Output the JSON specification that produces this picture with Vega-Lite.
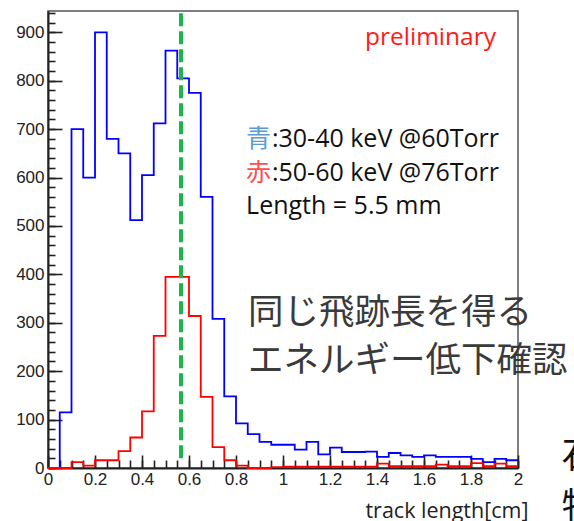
{
  "$schema": "https://vega.github.io/schema/vega-lite/v6.json",
  "width": 470,
  "height": 457,
  "autosize": {"type": "none"},
  "padding": {"left": 48, "top": 11, "right": 56, "bottom": 53},
  "background": "white",
  "config": {
    "view": {"stroke": "#555555", "strokeWidth": 1.5},
    "axis": {"grid": false}
  },
  "datasets": {
    "hist": [
      {"s": "blue", "x": 0, "v": 0}, {"s": "blue", "x": 0.05, "v": 115}, {"s": "blue", "x": 0.1, "v": 700}, {"s": "blue", "x": 0.15, "v": 600},
      {"s": "blue", "x": 0.2, "v": 900}, {"s": "blue", "x": 0.25, "v": 680}, {"s": "blue", "x": 0.3, "v": 650}, {"s": "blue", "x": 0.35, "v": 512},
      {"s": "blue", "x": 0.4, "v": 605}, {"s": "blue", "x": 0.45, "v": 712}, {"s": "blue", "x": 0.5, "v": 862}, {"s": "blue", "x": 0.55, "v": 805},
      {"s": "blue", "x": 0.6, "v": 775}, {"s": "blue", "x": 0.65, "v": 560}, {"s": "blue", "x": 0.7, "v": 308}, {"s": "blue", "x": 0.75, "v": 148},
      {"s": "blue", "x": 0.8, "v": 92}, {"s": "blue", "x": 0.85, "v": 70}, {"s": "blue", "x": 0.9, "v": 54}, {"s": "blue", "x": 0.95, "v": 48},
      {"s": "blue", "x": 1.0, "v": 48}, {"s": "blue", "x": 1.05, "v": 38}, {"s": "blue", "x": 1.1, "v": 54}, {"s": "blue", "x": 1.15, "v": 28},
      {"s": "blue", "x": 1.2, "v": 42}, {"s": "blue", "x": 1.25, "v": 33}, {"s": "blue", "x": 1.3, "v": 33}, {"s": "blue", "x": 1.35, "v": 34},
      {"s": "blue", "x": 1.4, "v": 23}, {"s": "blue", "x": 1.45, "v": 31}, {"s": "blue", "x": 1.5, "v": 26}, {"s": "blue", "x": 1.55, "v": 23},
      {"s": "blue", "x": 1.6, "v": 26}, {"s": "blue", "x": 1.65, "v": 23}, {"s": "blue", "x": 1.7, "v": 23}, {"s": "blue", "x": 1.75, "v": 23},
      {"s": "blue", "x": 1.8, "v": 19}, {"s": "blue", "x": 1.85, "v": 12}, {"s": "blue", "x": 1.9, "v": 19}, {"s": "blue", "x": 1.95, "v": 16},
      {"s": "blue", "x": 2.0, "v": 16},
      {"s": "red", "x": 0, "v": 0}, {"s": "red", "x": 0.05, "v": 0}, {"s": "red", "x": 0.1, "v": 12}, {"s": "red", "x": 0.15, "v": 5},
      {"s": "red", "x": 0.2, "v": 16}, {"s": "red", "x": 0.25, "v": 16}, {"s": "red", "x": 0.3, "v": 35}, {"s": "red", "x": 0.35, "v": 63},
      {"s": "red", "x": 0.4, "v": 117}, {"s": "red", "x": 0.45, "v": 273}, {"s": "red", "x": 0.5, "v": 395}, {"s": "red", "x": 0.55, "v": 395},
      {"s": "red", "x": 0.6, "v": 314}, {"s": "red", "x": 0.65, "v": 147}, {"s": "red", "x": 0.7, "v": 43}, {"s": "red", "x": 0.75, "v": 16},
      {"s": "red", "x": 0.8, "v": 5}, {"s": "red", "x": 0.85, "v": 0}, {"s": "red", "x": 0.9, "v": 0}, {"s": "red", "x": 0.95, "v": 2},
      {"s": "red", "x": 1.0, "v": 3}, {"s": "red", "x": 1.05, "v": 3}, {"s": "red", "x": 1.1, "v": 3}, {"s": "red", "x": 1.15, "v": 3},
      {"s": "red", "x": 1.2, "v": 3}, {"s": "red", "x": 1.25, "v": 3}, {"s": "red", "x": 1.3, "v": 3}, {"s": "red", "x": 1.35, "v": 3},
      {"s": "red", "x": 1.4, "v": 9}, {"s": "red", "x": 1.45, "v": 4}, {"s": "red", "x": 1.5, "v": 4}, {"s": "red", "x": 1.55, "v": 4},
      {"s": "red", "x": 1.6, "v": 4}, {"s": "red", "x": 1.65, "v": 7}, {"s": "red", "x": 1.7, "v": 4}, {"s": "red", "x": 1.75, "v": 4},
      {"s": "red", "x": 1.8, "v": 10}, {"s": "red", "x": 1.85, "v": 4}, {"s": "red", "x": 1.9, "v": 9}, {"s": "red", "x": 1.95, "v": 4},
      {"s": "red", "x": 2.0, "v": 4}
    ],
    "marker": [{"x": 0.566, "y0": 20, "y1": 944}],
    "prelim": [{"t": "preliminary", "x": 1.349, "y": 874}],
    "legendText": [
      {"t": ":30-40 keV @60Torr", "x": 0.953, "y": 663},
      {"t": ":50-60 keV @76Torr", "x": 0.953, "y": 593},
      {"t": "Length = 5.5 mm", "x": 0.843, "y": 525}
    ],
    "ao": [{"t": "青", "x": 0.843, "y": 663}],
    "aka": [{"t": "赤", "x": 0.843, "y": 593}],
    "jp": [
      {"t": "同じ飛跡長を得る", "x": 0.851, "y": 320},
      {"t": "エネルギー低下確認", "x": 0.851, "y": 221}
    ],
    "cut": [
      {"t": "石", "x": 2.186, "y": 23},
      {"t": "特", "x": 2.186, "y": -83}
    ]
  },
  "resolve": {"axis": {"x": "independent", "y": "independent"}},
  "layer": [
    {
      "data": {"name": "hist"},
      "mark": {"type": "line", "interpolate": "step-after", "strokeWidth": 1.8},
      "encoding": {
        "x": {
          "field": "x", "type": "quantitative",
          "scale": {"domain": [0, 2], "nice": false, "zero": false},
          "axis": {
            "orient": "bottom",
            "values": [0, 0.2, 0.4, 0.6, 0.8, 1, 1.2, 1.4, 1.6, 1.8, 2],
            "format": "~g",
            "tickSize": -13, "tickColor": "#222222", "tickWidth": 1.6,
            "labelPadding": 16, "labelFont": "Liberation Sans", "labelFontSize": 17, "labelColor": "#222222",
            "labelFlush": false, "labelOverlap": false,
            "domainColor": "#222222", "domainWidth": 2,
            "title": "track length[cm]", "titleFont": "Open Sans", "titleFontSize": 21.5, "titleFontWeight": "normal",
            "titleColor": "#222222", "titleAnchor": "end", "titleAlign": "right", "titleX": 480, "titleY": 49,
            "titleBaseline": "alphabetic"
          }
        },
        "y": {
          "field": "v", "type": "quantitative",
          "scale": {"domain": [0, 944], "nice": false},
          "axis": {
            "orient": "left",
            "values": [0, 100, 200, 300, 400, 500, 600, 700, 800, 900],
            "tickSize": -14, "tickColor": "#222222", "tickWidth": 1.6,
            "labelPadding": 18, "labelFont": "Liberation Sans", "labelFontSize": 17, "labelColor": "#222222",
            "labelFlush": false, "labelOverlap": false,
            "domainColor": "#222222", "domainWidth": 2,
            "title": null
          }
        },
        "color": {"field": "s", "type": "nominal", "scale": {"domain": ["blue", "red"], "range": ["#0000ff", "#ff0000"]}, "legend": null},
        "order": {"field": "x", "type": "quantitative"}
      }
    },
    {
      "data": {"name": "marker"},
      "mark": {"type": "rule", "color": "#1db54a", "strokeWidth": 4, "strokeDash": [13, 5]},
      "encoding": {
        "x": {
          "field": "x", "type": "quantitative",
          "axis": {
            "orient": "bottom",
            "values": [0, 0.05, 0.1, 0.15, 0.2, 0.25, 0.3, 0.35, 0.4, 0.45, 0.5, 0.55, 0.6, 0.65, 0.7, 0.75, 0.8, 0.85, 0.9, 0.95, 1, 1.05, 1.1, 1.15, 1.2, 1.25, 1.3, 1.35, 1.4, 1.45, 1.5, 1.55, 1.6, 1.65, 1.7, 1.75, 1.8, 1.85, 1.9, 1.95, 2],
            "tickSize": -8, "tickColor": "#222222", "tickWidth": 1.6,
            "labels": false, "domain": false, "title": null
          }
        },
        "y": {
          "field": "y0", "type": "quantitative",
          "axis": {
            "orient": "left",
            "values": [0, 20, 40, 60, 80, 100, 120, 140, 160, 180, 200, 220, 240, 260, 280, 300, 320, 340, 360, 380, 400, 420, 440, 460, 480, 500, 520, 540, 560, 580, 600, 620, 640, 660, 680, 700, 720, 740, 760, 780, 800, 820, 840, 860, 880, 900, 920, 940],
            "tickSize": -7, "tickColor": "#222222", "tickWidth": 1.6,
            "labels": false, "domain": false, "title": null
          }
        },
        "y2": {"field": "y1"}
      }
    },
    {
      "data": {"name": "prelim"},
      "mark": {"type": "text", "align": "left", "baseline": "alphabetic", "font": "Open Sans", "fontSize": 24.5, "color": "#ff1a1a"},
      "encoding": {
        "x": {"field": "x", "type": "quantitative", "axis": null},
        "y": {"field": "y", "type": "quantitative", "axis": null},
        "text": {"field": "t"}
      }
    },
    {
      "data": {"name": "legendText"},
      "mark": {"type": "text", "align": "left", "baseline": "alphabetic", "font": "Open Sans", "fontSize": 25, "color": "#111111"},
      "encoding": {
        "x": {"field": "x", "type": "quantitative", "axis": null},
        "y": {"field": "y", "type": "quantitative", "axis": null},
        "text": {"field": "t"}
      }
    },
    {
      "data": {"name": "ao"},
      "mark": {"type": "text", "align": "left", "baseline": "alphabetic", "font": "Noto Sans CJK JP", "fontSize": 25, "color": "#5b9bd5"},
      "encoding": {
        "x": {"field": "x", "type": "quantitative", "axis": null},
        "y": {"field": "y", "type": "quantitative", "axis": null},
        "text": {"field": "t"}
      }
    },
    {
      "data": {"name": "aka"},
      "mark": {"type": "text", "align": "left", "baseline": "alphabetic", "font": "Noto Sans CJK JP", "fontSize": 25, "color": "#ff4d4d"},
      "encoding": {
        "x": {"field": "x", "type": "quantitative", "axis": null},
        "y": {"field": "y", "type": "quantitative", "axis": null},
        "text": {"field": "t"}
      }
    },
    {
      "data": {"name": "jp"},
      "mark": {"type": "text", "align": "left", "baseline": "middle", "font": "Noto Sans CJK JP", "fontSize": 35.5, "color": "#3a3a3a"},
      "encoding": {
        "x": {"field": "x", "type": "quantitative", "axis": null},
        "y": {"field": "y", "type": "quantitative", "axis": null},
        "text": {"field": "t"}
      }
    },
    {
      "data": {"name": "cut"},
      "mark": {"type": "text", "align": "left", "baseline": "middle", "font": "Noto Sans CJK JP", "fontSize": 36, "color": "#111111"},
      "encoding": {
        "x": {"field": "x", "type": "quantitative", "axis": null},
        "y": {"field": "y", "type": "quantitative", "axis": null},
        "text": {"field": "t"}
      }
    }
  ]
}
